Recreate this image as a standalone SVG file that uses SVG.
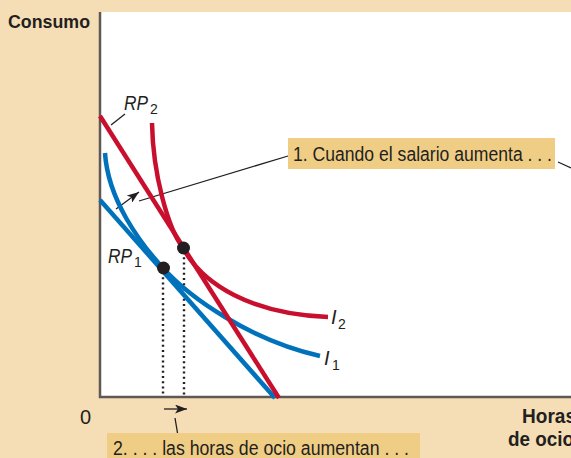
<svg xmlns="http://www.w3.org/2000/svg" width="571" height="458" viewBox="0 0 571 458">
<defs>
<style>
.t{font-family:"Liberation Sans Narrow","Liberation Sans",Arial,sans-serif;fill:#231f20;}
.b{font-weight:bold;}
.i{font-style:italic;}
.red{fill:none;stroke:#c8102e;stroke-width:4.5;}
.blue{fill:none;stroke:#0072bc;stroke-width:4.5;}
.lead{fill:none;stroke:#231f20;stroke-width:1.3;}
.dot{fill:none;stroke:#231f20;stroke-width:2.4;stroke-dasharray:2 3.2;}
.box{fill:#f0cd85;}
</style>
<marker id="ah" viewBox="0 0 12 9" refX="12" refY="4.5" markerWidth="12" markerHeight="9" markerUnits="userSpaceOnUse" orient="auto">
<path d="M0,0 L12,4.5 L0,9 L3,4.5 Z" fill="#231f20"/>
</marker>
</defs>
<rect x="0" y="0" width="571" height="458" fill="#f5deb5"/>
<rect x="100" y="12" width="471" height="385" fill="#ffffff"/>
<g id="axes">
<path d="M100,12 V397 H571" fill="none" stroke="#5f5955" stroke-width="2.5"/>
</g>
<g id="connectors">
<line class="dot" x1="163" y1="272" x2="163" y2="396"/>
<line class="dot" x1="184" y1="252" x2="184" y2="396"/>
<line class="lead" x1="139" y1="201" x2="288" y2="156"/>
<line class="lead" x1="558" y1="162" x2="571" y2="168"/>
<line class="lead" x1="116" y1="209" x2="139" y2="192" marker-end="url(#ah)"/>
<line class="lead" x1="164" y1="409" x2="187" y2="409" marker-end="url(#ah)"/>
<line class="lead" x1="175" y1="418" x2="177.5" y2="433"/>
<line class="lead" x1="111" y1="125" x2="125" y2="114"/>
</g>
<g id="RP1"><line class="blue" x1="100" y1="200" x2="275" y2="398"/></g>
<g id="I1"><path class="blue" d="M105,153 C108,200 140,243 163,268 C190,298 250,340 320,356"/></g>
<g id="RP2"><line class="red" x1="100" y1="116" x2="279" y2="398"/></g>
<g id="I2"><path class="red" d="M152,123 C153,175 168,228 183,248 C203,285 252,314 328,317"/></g>
<g id="points">
<circle cx="183.5" cy="248" r="6.5" fill="#231f20"/>
<circle cx="163.5" cy="268" r="6.5" fill="#231f20"/>
</g>
<g id="labels">
<text class="t b" x="8" y="28" font-size="19" textLength="82" lengthAdjust="spacingAndGlyphs">Consumo</text>
<text class="t" x="80" y="424" font-size="20">0</text>
<text class="t b" x="522" y="423" font-size="20" textLength="54" lengthAdjust="spacingAndGlyphs">Horas</text>
<text class="t b" x="508" y="446" font-size="20" textLength="66" lengthAdjust="spacingAndGlyphs">de ocio</text>
<text class="t i" x="124" y="110" font-size="20" textLength="24" lengthAdjust="spacingAndGlyphs">RP</text>
<text class="t" x="150" y="114" font-size="14">2</text>
<text class="t i" x="108" y="263" font-size="20" textLength="24" lengthAdjust="spacingAndGlyphs">RP</text>
<text class="t" x="134" y="267" font-size="14">1</text>
<text class="t i" x="331" y="324" font-size="20">I</text>
<text class="t" x="338" y="329" font-size="14">2</text>
<text class="t i" x="324" y="365" font-size="20">I</text>
<text class="t" x="332" y="370" font-size="14">1</text>
</g>
<g id="note1">
<rect class="box" x="288" y="138" width="267" height="31"/>
<text class="t" x="293" y="161" font-size="20" textLength="259" lengthAdjust="spacingAndGlyphs">1. Cuando el salario aumenta . . .</text>
</g>
<g id="note2">
<rect class="box" x="107" y="433" width="313" height="30"/>
<text class="t" x="113" y="455" font-size="20" textLength="296" lengthAdjust="spacingAndGlyphs">2. . . . las horas de ocio aumentan . . .</text>
</g>
</svg>
